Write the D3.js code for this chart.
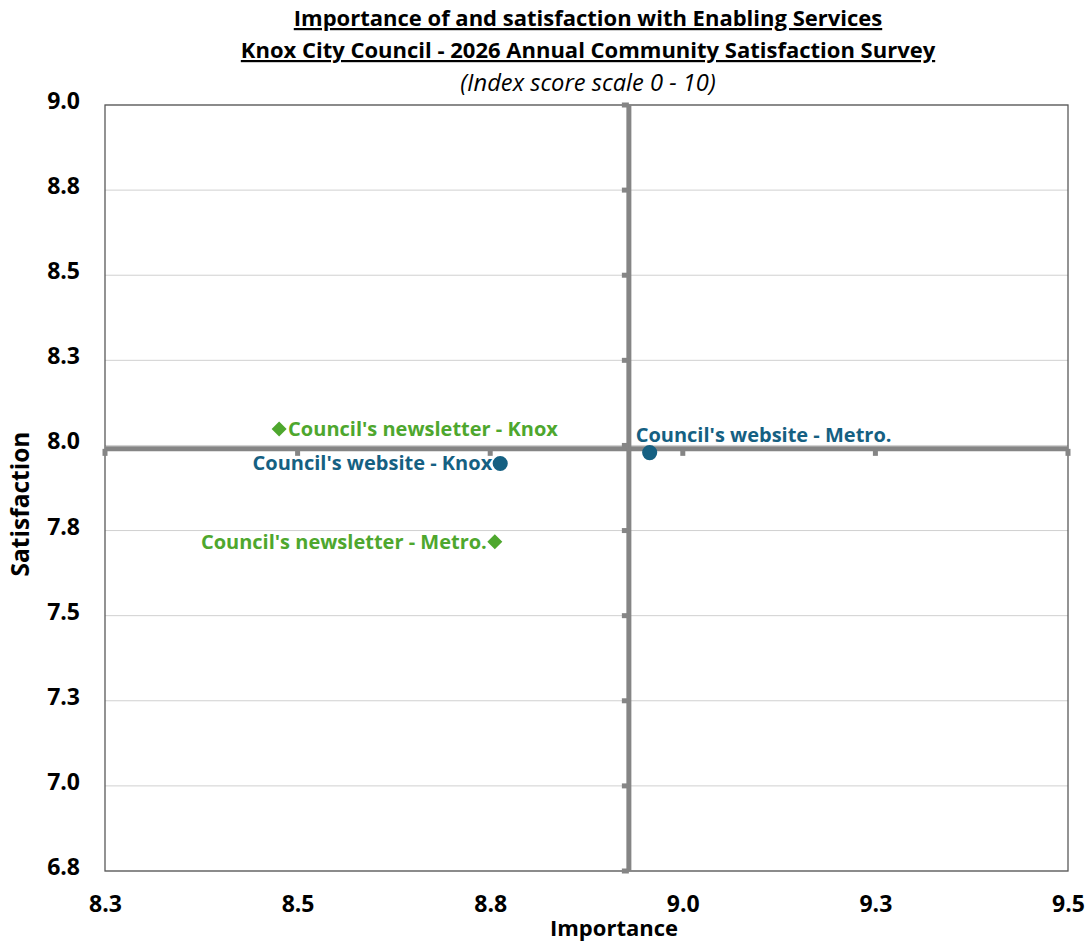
<!DOCTYPE html>
<html>
<head>
<meta charset="utf-8">
<script src="https://cdn.jsdelivr.net/npm/d3@7"></script>
<style>
  html, body { margin: 0; padding: 0; background: #fff; }
  svg text { font-family: "Open Sans", "Liberation Sans", sans-serif; }
</style>
</head>
<body>
<svg id="chart" width="1090" height="942"></svg>
<script>
// ---- data ----
const categories = ["Council's newsletter - Knox", "Council's website - Knox", "Council's newsletter - Metro.", "Council's website - Metro."];
const seriesType = ["newsletter", "website", "newsletter", "website"];
const importance = [8.476, 8.763, 8.756, 8.957];
const satisfaction = [8.048, 7.947, 7.717, 7.979];
const averageImportance = 8.93;
const averageSatisfaction = 7.99;
const xTicks = [8.25, 8.5, 8.75, 9.0, 9.25, 9.5];
const yTicks = [6.75, 7.0, 7.25, 7.5, 7.75, 8.0, 8.25, 8.5, 8.75, 9.0];
const titleLines = ["Importance of and satisfaction with Enabling Services", "Knox City Council - 2026 Annual Community Satisfaction Survey"];
const subtitle = "(Index score scale 0 - 10)";

// ---- styles ----
const colors = { newsletter: "#4EA72E", website: "#156082" };
const labelPlacement = ["right", "left", "left", "above"];

const svg = d3.select("#chart");
const m = { left: 105, right: 1068, top: 105, bottom: 871 };

const x = d3.scaleLinear().domain([8.25, 9.5]).range([m.left, m.right]);
const y = d3.scaleLinear().domain([6.75, 9.0]).range([m.bottom, m.top]);

// titles
titleLines.forEach((t, i) => {
  svg.append("text").attr("x", 588).attr("y", 26 + i * 32)
    .attr("text-anchor", "middle").attr("font-size", 22).attr("font-weight", "bold")
    .attr("text-decoration", "underline").attr("fill", "#000").text(t);
});
svg.append("text").attr("x", 588).attr("y", 91).attr("text-anchor", "middle")
  .attr("font-size", 23.7).attr("font-style", "italic").attr("fill", "#000").text(subtitle);

// gridlines
svg.append("g").selectAll("line").data(yTicks).join("line")
  .attr("x1", m.left).attr("x2", m.right)
  .attr("y1", d => y(d)).attr("y2", d => y(d))
  .attr("stroke", "#d0d0d0").attr("stroke-width", 1);

// plot border
svg.append("rect").attr("x", m.left).attr("y", m.top)
  .attr("width", m.right - m.left).attr("height", m.bottom - m.top)
  .attr("fill", "none").attr("stroke", "#595959").attr("stroke-width", 1.3);

// axis tick labels
const fmt = d3.format(".1f");
const xAxis = d3.axisBottom(x).tickValues(xTicks).tickFormat(fmt).tickSize(0).tickPadding(25);
const gx = svg.append("g").attr("transform", `translate(0,${m.bottom})`).call(xAxis);
gx.select(".domain").remove();
gx.selectAll("text").attr("font-size", 23).attr("font-weight", "bold").attr("fill", "#000")
  .attr("font-family", "Open Sans");

const yAxis = d3.axisLeft(y).tickValues(yTicks).tickFormat(fmt).tickSize(0).tickPadding(25);
const gy = svg.append("g").attr("transform", `translate(${m.left},0)`).call(yAxis);
gy.select(".domain").remove();
gy.selectAll("text").attr("font-size", 23).attr("font-weight", "bold").attr("fill", "#000")
  .attr("font-family", "Open Sans").attr("dy", "0.15em");

// axis titles
svg.append("text").attr("x", 614).attr("y", 936).attr("text-anchor", "middle")
  .attr("font-size", 22).attr("font-weight", "bold").attr("fill", "#000").text("Importance");
svg.append("text").attr("transform", "translate(29,504) rotate(-90)").attr("text-anchor", "middle")
  .attr("font-size", 24.5).attr("font-weight", "bold").attr("fill", "#000").text("Satisfaction");

// crosshair lines (average)
const cross = svg.append("g");
const cx = x(averageImportance), cy = y(averageSatisfaction);
cross.append("line").attr("x1", m.left).attr("x2", m.right).attr("y1", cy).attr("y2", cy)
  .attr("stroke", "#858585").attr("stroke-width", 5);
cross.append("line").attr("x1", cx).attr("x2", cx).attr("y1", m.top).attr("y2", m.bottom)
  .attr("stroke", "#858585").attr("stroke-width", 5);
// tick marks on crosshair lines
cross.selectAll(".xt").data(xTicks).join("line")
  .attr("x1", d => x(d)).attr("x2", d => x(d)).attr("y1", cy).attr("y2", cy + 7)
  .attr("stroke", "#858585").attr("stroke-width", 5);
cross.selectAll(".yt").data(yTicks).join("line")
  .attr("x1", cx - 7).attr("x2", cx).attr("y1", d => y(d)).attr("y2", d => y(d))
  .attr("stroke", "#858585").attr("stroke-width", 5);

// points
const pts = categories.map((c, i) => ({ c, t: seriesType[i], xv: importance[i], yv: satisfaction[i], pos: labelPlacement[i] }));
const g = svg.append("g");
g.selectAll("path.pt").data(pts).join("path")
  .attr("class", "pt")
  .attr("transform", d => `translate(${x(d.xv)},${y(d.yv)})`)
  .attr("d", d => d.t === "website"
    ? d3.symbol(d3.symbolCircle, 180)()
    : "M0,-7.5L7.5,0L0,7.5L-7.5,0Z")
  .attr("fill", d => colors[d.t]);

// labels
g.selectAll("text.lbl").data(pts).join("text")
  .attr("class", "lbl")
  .attr("x", d => d.pos === "right" ? x(d.xv) + 9 : d.pos === "left" ? x(d.xv) - 8 : x(d.xv) - 14)
  .attr("y", d => d.pos === "above" ? y(d.yv) - 11 : y(d.yv) + 7)
  .attr("text-anchor", d => d.pos === "left" ? "end" : "start")
  .attr("font-size", 20).attr("font-weight", "bold")
  .attr("fill", d => colors[d.t]).text(d => d.c);
</script>
</body>
</html>
